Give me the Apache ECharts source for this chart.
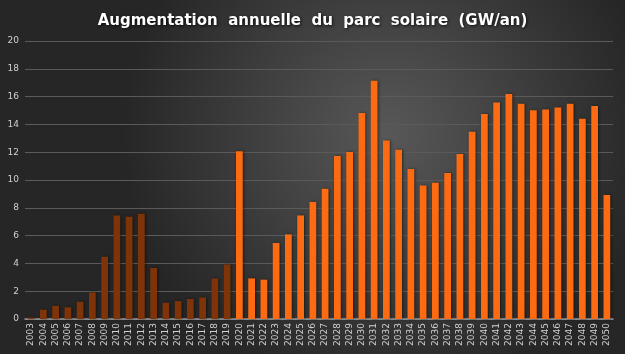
<!DOCTYPE html>
<html><head><meta charset="utf-8">
<script src="https://cdn.jsdelivr.net/npm/echarts@6/dist/echarts.min.js"></script>
<style>html,body{margin:0;padding:0;}#c{width:625px;height:354px;}</style>
</head><body><div id="c"></div>
<script>
const years = [];
for (let y = 2003; y <= 2050; y++) years.push(String(y));
const historique = [0.1,0.67,0.95,0.84,1.24,1.92,4.48,7.45,7.36,7.57,3.67,1.17,1.29,1.44,1.55,2.92,3.93];
const projection = [12.06,2.92,2.83,5.47,6.09,7.45,8.42,9.37,11.73,12.01,14.82,17.14,12.85,12.18,10.79,9.61,9.81,10.5,11.87,13.47,14.75,15.58,16.19,15.49,15.01,15.08,15.22,15.49,14.41,15.32,8.92];
const yTicks = [0,2,4,6,8,10,12,14,16,18,20];
const titleText = 'Augmentation  annuelle  du  parc  solaire  (GW/an)';

const histData = years.map((y,i) => i < historique.length ? historique[i] : '-');
const projData = years.map((y,i) => i >= historique.length ? projection[i - historique.length] : '-');

const chart = echarts.init(document.getElementById('c'));
chart.setOption({
  animation: false,
  backgroundColor: {
    type: 'radial', x: 0.62, y: 0.38, r: 0.75,
    colorStops: [{offset: 0, color: '#585858'}, {offset: 1, color: '#262626'}]
  },
  title: {
    text: titleText, left: 'center', top: 9,
    textStyle: {color: '#ffffff', fontSize: 15, fontWeight: 'bold', fontFamily: 'DejaVu Sans',
      textShadowColor: 'rgba(0,0,0,0.8)', textShadowBlur: 3, textShadowOffsetX: 1, textShadowOffsetY: 1}
  },
  grid: {left: 25, right: 12, top: 41, bottom: 35},
  xAxis: {
    type: 'category', data: years,
    axisLine: {lineStyle: {color: '#9a9a9a', width: 1.5}},
    axisTick: {show: false},
    axisLabel: {rotate: 90, color: '#d0d0d0', fontSize: 9, fontFamily: 'DejaVu Sans', interval: 0, margin: 4}
  },
  yAxis: {
    type: 'value', min: yTicks[0], max: yTicks[yTicks.length-1], interval: 2,
    axisLine: {show: false}, axisTick: {show: false},
    axisLabel: {color: '#d0d0d0', fontSize: 9, fontFamily: 'DejaVu Sans', margin: 6},
    splitLine: {lineStyle: {color: '#5a5a5a', width: 1}}
  },
  series: [
    {type: 'bar', data: histData, stack: 'a', barWidth: '55%',
     itemStyle: {color: '#7e3408', shadowColor: 'rgba(0,0,0,0.5)', shadowBlur: 3, shadowOffsetX: 1}},
    {type: 'bar', data: projData, stack: 'a', barWidth: '55%',
     itemStyle: {color: '#fc6b12', shadowColor: 'rgba(0,0,0,0.5)', shadowBlur: 3, shadowOffsetX: 1}}
  ]
});
</script></body></html>
